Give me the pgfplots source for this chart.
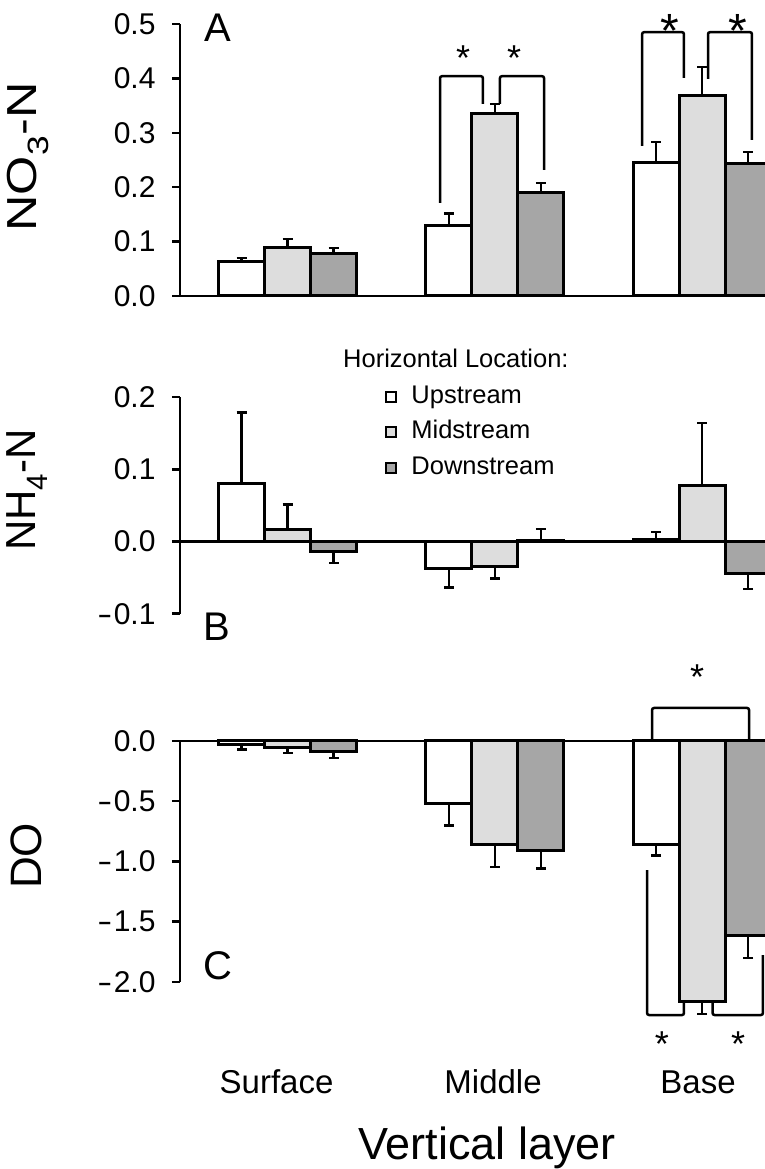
\documentclass[border=0pt]{standalone}
\usepackage{fontspec}
\setmainfont{Liberation Sans}
\usepackage{pgfplots}
\pgfplotsset{compat=1.18}
\definecolor{midfill}{HTML}{DDDDDD}
\definecolor{downfill}{HTML}{A6A6A6}
\newcommand{\fs}[1]{\fontsize{#1bp}{#1bp}\selectfont}
\newcommand{\mn}{\scalebox{1.5}[1]{-}\kern1.5bp}
\tikzset{
 brk/.style={line width=2.5bp, rounded corners=2bp},
 star/.style={anchor=north, inner sep=0pt, font=\fs{36}},
 bigstar/.style={anchor=north, inner sep=0pt, font=\fs{48}},
}
\pgfplotsset{
 panel/.style={
  scale only axis, width=620bp, anchor=south west,
  xmin=0.4813, xmax=3.4729, enlargelimits=false,
  axis x line*=bottom, axis y line*=left,
  axis line style={-, line width=2.5bp},
  x axis line style={draw=none},
  ytick pos=left, tick align=outside, major tick length=8bp,
  every tick/.style={line width=2.5bp, black},
  xtick=\empty,
  ybar=0pt, bar width=46bp,
  clip=false,
  yticklabel style={font=\fs{30}, xshift=-13bp},
  every axis plot/.append style={draw=black, line width=3bp,
    error bars/y dir=both, error bars/y explicit,
    error bars/error bar style={line width=2.5bp, black},
    error bars/error mark options={rotate=90, line width=2.5bp, mark size=5bp, black}},
 },
}
\begin{document}
\begin{tikzpicture}
\useasboundingbox (0,0) rectangle (765bp,1169bp);
% ---------------- Panel A
\begin{axis}[panel, at={(180bp,873bp)}, height=272bp, ymin=0, ymax=0.5,
  ytick={0,0.1,0.2,0.3,0.4,0.5}, yticklabels={0.0,0.1,0.2,0.3,0.4,0.5}]
\addplot[fill=white] coordinates {(1,0.0625) += (0,0.0075) -= (0,0.00001) (2,0.129) += (0,0.023) -= (0,0.00001) (3,0.246) += (0,0.037) -= (0,0.00001)};
\addplot[fill=midfill] coordinates {(1,0.090) += (0,0.015) -= (0,0.00001) (2,0.336) += (0,0.017) -= (0,0.00001) (3,0.369) += (0,0.052) -= (0,0.00001)};
\addplot[fill=downfill] coordinates {(1,0.079) += (0,0.009) -= (0,0.00001) (2,0.191) += (0,0.017) -= (0,0.00001) (3,0.244) += (0,0.021) -= (0,0.00001)};
\draw[line width=2.5bp] (axis cs:0.4813,0) -- (axis cs:3.4729,0);
\draw[brk] (axis cs:1.736,0.171) -- (axis cs:1.736,0.404) -- (axis cs:1.943,0.404) -- (axis cs:1.943,0.353);
\draw[brk] (axis cs:2.025,0.353) -- (axis cs:2.025,0.404) -- (axis cs:2.238,0.404) -- (axis cs:2.238,0.232);
\draw[brk] (axis cs:2.711,0.276) -- (axis cs:2.711,0.485) -- (axis cs:2.913,0.485) -- (axis cs:2.913,0.401);
\draw[brk] (axis cs:3.029,0.399) -- (axis cs:3.029,0.485) -- (axis cs:3.241,0.485) -- (axis cs:3.241,0.287);
\node[star] at (axis cs:1.847,0.461) {*};
\node[star] at (axis cs:2.093,0.461) {*};
\node[bigstar] at (axis cs:2.847,0.518) {*};
\node[bigstar] at (axis cs:3.175,0.518) {*};
\end{axis}
% ---------------- Panel B
\begin{axis}[panel, at={(180bp,555.3bp)}, height=216.6bp, ymin=-0.1, ymax=0.2,
  ytick={-0.1,0,0.1,0.2}, yticklabels={\mn0.1,0.0,0.1,0.2},
  legend style={at={(0.331,1.056)}, anchor=north west, draw=none, fill=none,
    inner sep=0pt, font=\fs{25.5},
    nodes={inner sep=0pt, text height=18bp, text depth=5bp},
    row sep=12.5bp, column sep=14bp},
  legend cell align=left,
  legend image code/.code={\draw[#1, line width=2bp] (0bp,-5bp) rectangle (10bp,5bp);}]
\addplot[fill=white] coordinates {(1,0.080) += (0,0.099) -= (0,0.00001) (2,-0.037) += (0,0.00001) -= (0,0.027) (3,0.003) += (0,0.010) -= (0,0.00001)};
\addlegendentry{Upstream}
\addplot[fill=midfill] coordinates {(1,0.017) += (0,0.034) -= (0,0.00001) (2,-0.034) += (0,0.00001) -= (0,0.017) (3,0.078) += (0,0.086) -= (0,0.00001)};
\addlegendentry{Midstream}
\addplot[fill=downfill] coordinates {(1,-0.0145) += (0,0.00001) -= (0,0.0155) (2,0.001) += (0,0.016) -= (0,0.00001) (3,-0.045) += (0,0.00001) -= (0,0.021)};
\addlegendentry{Downstream}
\draw[line width=2.5bp] (axis cs:0.4813,0) -- (axis cs:3.4729,0);
\end{axis}
% ---------------- Panel C
\begin{axis}[panel, at={(180bp,187bp)}, height=241bp, ymin=-2, ymax=0,
  ytick={-2,-1.5,-1,-0.5,0}, yticklabels={\mn2.0,\mn1.5,\mn1.0,\mn0.5,0.0},
  xtick={0.947,1.992,2.981}, xticklabels={Surface,Middle,Base},
  xtick style={draw=none},
  xticklabel style={font=\fs{33}, anchor=base, yshift=-103bp},
  xlabel={Vertical layer},
  xlabel style={font=\fs{45}, at={(axis description cs:0.495,0)}, anchor=base, yshift=-177bp}]
\addplot[fill=white] coordinates {(1,-0.03) += (0,0.00001) -= (0,0.04) (2,-0.52) += (0,0.00001) -= (0,0.18) (3,-0.86) += (0,0.00001) -= (0,0.09)};
\addplot[fill=midfill] coordinates {(1,-0.05) += (0,0.00001) -= (0,0.05) (2,-0.855) += (0,0.00001) -= (0,0.19) (3,-2.16) += (0,0.00001) -= (0,0.105)};
\addplot[fill=downfill] coordinates {(1,-0.09) += (0,0.00001) -= (0,0.05) (2,-0.91) += (0,0.00001) -= (0,0.15) (3,-1.61) += (0,0.00001) -= (0,0.19)};
\draw[line width=2.5bp] (axis cs:0.4813,0) -- (axis cs:3.4729,0);
\draw[brk] (axis cs:2.759,0) -- (axis cs:2.759,0.274) -- (axis cs:3.227,0.274) -- (axis cs:3.227,0);
\draw[brk] (axis cs:2.735,-1.071) -- (axis cs:2.735,-2.274) -- (axis cs:2.913,-2.274) -- (axis cs:2.913,-2.166);
\draw[brk] (axis cs:3.051,-2.166) -- (axis cs:3.051,-2.274) -- (axis cs:3.294,-2.274) -- (axis cs:3.294,-1.776);
\node[star] at (axis cs:2.976,0.631) {*};
\node[star] at (axis cs:2.807,-2.415) {*};
\node[star] at (axis cs:3.174,-2.415) {*};
\end{axis}
% ---------------- labels
\node[rotate=90, font=\fs{42}] at (28bp,1012bp) {\scalebox{1.2}[1]{NO\textsubscript{3}-N}};
\node[rotate=90, font=\fs{42}] at (27bp,679bp) {NH\textsubscript{4}-N};
\node[rotate=90, font=\fs{44}] at (26bp,313bp) {DO};
\node[font=\fs{40}] at (218bp,1141bp) {A};
\node[font=\fs{40}] at (217bp,542bp) {B};
\node[font=\fs{40}] at (218bp,203bp) {C};
\node[font=\fs{25.5}, anchor=west, inner sep=0pt] at (343bp,811bp) {Horizontal Location:};
\end{tikzpicture}
\end{document}
